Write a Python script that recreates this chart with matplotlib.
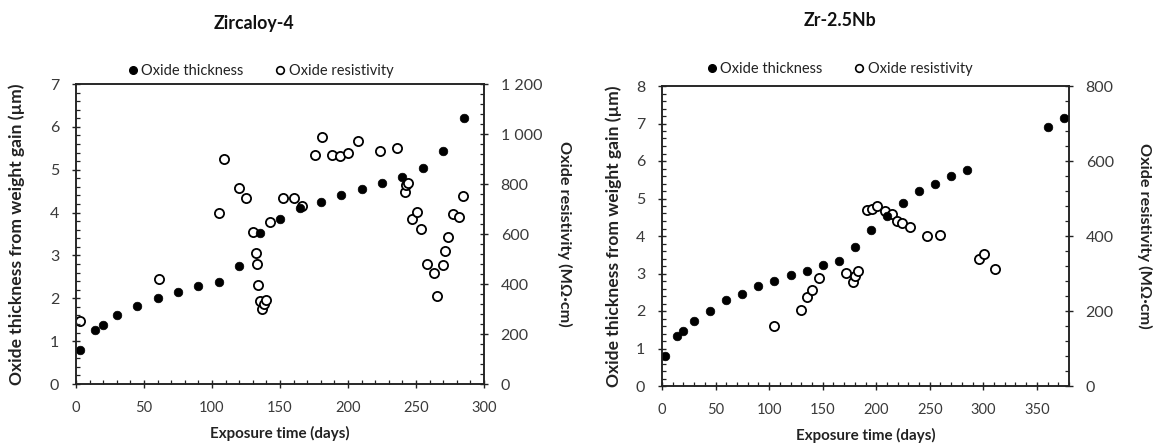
import matplotlib
matplotlib.use("Agg")
import matplotlib.pyplot as plt
from matplotlib.ticker import MultipleLocator, FuncFormatter
from matplotlib.lines import Line2D

plt.rcParams['font.family'] = ['Lato', 'DejaVu Sans']

# ---------------- Data ----------------
# Zircaloy-4
zr4_days_thick = [3, 14, 20, 30, 45, 60, 75, 90, 105, 120, 135, 150, 165, 180, 195, 210, 225, 240, 255, 270, 285]
zr4_thick = [0.80, 1.25, 1.37, 1.60, 1.81, 2.00, 2.14, 2.28, 2.39, 2.75, 3.52, 3.86, 4.10, 4.24, 4.41, 4.55, 4.70, 4.82, 5.04, 5.44, 6.21]
zr4_days_res = [3, 61, 105, 109, 120, 125, 130, 132, 133, 133.5, 135, 137, 138, 140, 143, 152.5, 160, 166,
                176, 181, 188, 194, 200, 207, 223.5, 236, 242, 243, 244, 247, 250.5, 254, 258, 263.5,
                265.5, 270, 271, 273.5, 277, 281.5, 284.5]
zr4_res = [254, 421, 684, 902, 784, 745, 610, 523, 480, 396, 332, 301, 322, 338, 647, 745, 745, 714,
           916, 989, 918, 912, 924, 973, 932, 944, 769, 797, 805, 662, 690, 619, 479, 443,
           354, 475, 531, 590, 682, 668, 751]

# Zr-2.5Nb
nb_days_thick = [3, 14, 20, 30, 45, 60, 75, 90, 105, 120, 135, 150, 165, 180, 195, 210, 225, 240, 255, 270, 285, 360, 375]
nb_thick = [0.80, 1.33, 1.46, 1.73, 2.01, 2.29, 2.45, 2.66, 2.80, 2.95, 3.08, 3.23, 3.34, 3.71, 4.15, 4.54, 4.88, 5.19, 5.40, 5.61, 5.75, 6.92, 7.15]
nb_days_res = [105, 129.5, 135, 140, 147, 171.5, 178, 180, 183, 191, 196, 200.5, 208, 214.5, 219.5, 224, 232,
               247, 259.5, 296, 300.5, 310.5]
nb_res = [161, 202, 238, 255, 288, 302, 278, 293, 307, 469, 473, 480, 466, 460, 440, 436, 423,
          400, 404, 340, 351, 313]

titles = ["Zircaloy-4", "Zr-2.5Nb"]
legend_labels = ["Oxide thickness", "Oxide resistivity"]
xlabel = "Exposure time (days)"
ylabel_left = "Oxide thickness from weight gain (\u00b5m)"
ylabel_right = "Oxide resistivity (M\u03a9\u00b7cm)"

W, H = 1155, 443
fig = plt.figure(figsize=(W / 100, H / 100), dpi=100)

TXT = '#222222'
TICK = '#3a3a3a'


def px_axes(x0, x1, ytop, ybot):
    return fig.add_axes([x0 / W, (H - ybot) / H, (x1 - x0) / W, (ybot - ytop) / H])


def thousands(v, pos):
    v = int(round(v))
    if v >= 1000:
        return f"{v // 1000}\u00a0{v % 1000:03d}"
    return str(v)


def style(ax, ax2, xmax, xmaj, ymax_l, ymax_r, rmaj, rmin):
    ax.set_xlim(0, xmax)
    ax.set_ylim(0, ymax_l)
    ax2.set_ylim(0, ymax_r)
    ax.xaxis.set_major_locator(MultipleLocator(xmaj))
    ax.xaxis.set_minor_locator(MultipleLocator(10))
    ax.yaxis.set_major_locator(MultipleLocator(1))
    ax.yaxis.set_minor_locator(MultipleLocator(0.2))
    ax2.yaxis.set_major_locator(MultipleLocator(rmaj))
    ax2.yaxis.set_minor_locator(MultipleLocator(rmin))
    ax2.yaxis.set_major_formatter(FuncFormatter(thousands))
    for a in (ax, ax2):
        for s in a.spines.values():
            s.set_linewidth(1.1)
            s.set_color('#222222')
        a.tick_params(which='major', direction='inout', length=6, width=1.0,
                      color='#222222', labelcolor=TICK, pad=9)
        a.tick_params(which='minor', direction='in', length=3, width=0.9, color='#222222')
    ax.tick_params(axis='x', which='major', labelsize=10.5)
    ax.tick_params(axis='y', which='major', labelsize=11.5)
    ax2.tick_params(axis='y', which='major', labelsize=11.5)
    ax.tick_params(axis='y', which='both', right=False)
    ax.tick_params(axis='x', which='both', top=False)
    ax2.tick_params(axis='x', which='both', top=False, bottom=False)
    ax.set_zorder(ax2.get_zorder() + 1)
    ax.patch.set_visible(False)


specs = [
    dict(rect=(76, 484, 84, 384), days_t=zr4_days_thick, th=zr4_thick, days_r=zr4_days_res, res=zr4_res,
         xmax=300, ymax_l=7, ymax_r=1200, rmaj=200, rmin=40,
         title_xy=(254, 23), leg_xy=(261, 71), ylab_l=-0.125, ylab_r=1.179),
    dict(rect=(662, 1069, 86, 386), days_t=nb_days_thick, th=nb_thick, days_r=nb_days_res, res=nb_res,
         xmax=380, ymax_l=8, ymax_r=800, rmaj=200, rmin=40,
         title_xy=(840, 20), leg_xy=(840, 69), ylab_l=-0.098, ylab_r=1.167),
]

for i, sp in enumerate(specs):
    x0, x1, yt, yb = sp['rect']
    ax = px_axes(x0, x1, yt, yb)
    ax2 = ax.twinx()
    ax2.plot(sp['days_r'], sp['res'], linestyle='none', marker='o', ms=6.6, mfc='white',
             mec='black', mew=1.3)
    ax.plot(sp['days_t'], sp['th'], linestyle='none', marker='o', ms=6.2, mfc='black',
            mec='black', mew=0.5)
    style(ax, ax2, sp['xmax'], 50, sp['ymax_l'], sp['ymax_r'], sp['rmaj'], sp['rmin'])

    ax.set_xlabel(xlabel, fontsize=10.9, fontweight='bold', color=TXT)
    ax.xaxis.set_label_coords(0.5, -0.14)
    ax.set_ylabel(ylabel_left, fontsize=12.6, fontweight='bold', color=TXT)
    ax.yaxis.set_label_coords(sp['ylab_l'], 0.5)
    ax2.set_ylabel(ylabel_right, fontsize=11.7, fontweight='bold', color=TXT,
                   rotation=270, va='bottom')
    ax2.yaxis.set_label_coords(sp['ylab_r'], 0.5)

    tx, ty = sp['title_xy']
    fig.text(tx / W, 1 - ty / H, titles[i], ha='center', va='center', fontsize=12.8,
             fontweight='bold', color='#111111')

    handles = [
        Line2D([], [], linestyle='none', marker='o', ms=5.5, mfc='black', mec='black'),
        Line2D([], [], linestyle='none', marker='o', ms=5.5, mfc='white', mec='black', mew=1.2),
    ]
    lx, ly = sp['leg_xy']
    fig.legend(handles, legend_labels, loc='center', bbox_to_anchor=(lx / W, 1 - ly / H),
               ncol=2, frameon=False, fontsize=10.5, handlelength=0.6, handletextpad=0.3,
               columnspacing=2.2, borderpad=0.0, labelcolor=TXT)

fig.savefig("out.png", dpi=100)
